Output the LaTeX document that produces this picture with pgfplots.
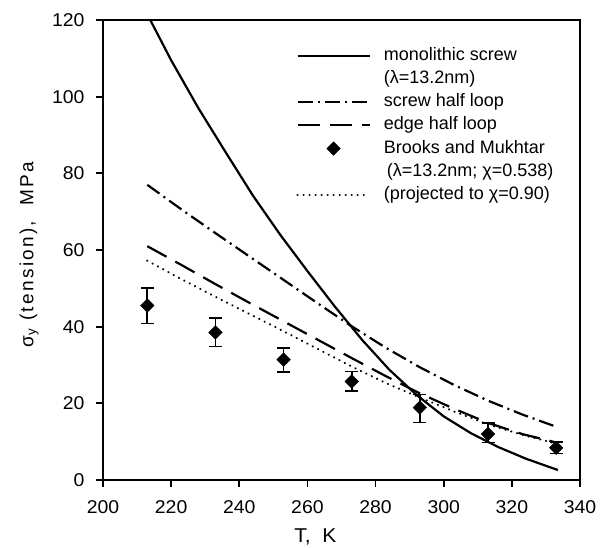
\documentclass[border=0pt]{standalone}
\usepackage{fontspec}
\setmainfont{Liberation Sans}
\newfontfamily\tickfont{Liberation Sans}[FakeStretch=1.05]
\newfontfamily\ylabfont{Liberation Sans}[LetterSpace=12]
\usepackage{pgfplots}
\pgfplotsset{compat=1.18}
\pgfplotsset{
 linelegend/.style={legend image code/.code={\draw[##1] (0pt,0pt) -- (72pt,0pt);}},
 marklegend/.style={legend image code/.code={\path (0pt,0pt) (72pt,0pt); \path[##1, draw=none] plot coordinates {(36pt,0pt)};}},
}

\pgfplotstableread{
x y ep em
213 45.5 4.5 4.7
233 38.5 3.8 3.7
253 31.4 3.0 3.3
273 25.7 2.6 2.5
293 18.9 3.4 3.9
313 12.0 2.8 2.2
333 8.4 1.6 1.5
}\brooks

\begin{document}
\begin{tikzpicture}
\begin{axis}[
 at={(0pt,0pt)}, anchor=south west,
 scale only axis, width=477pt, height=460pt,
 xmin=200, xmax=340, ymin=0, ymax=120,
 xtick={200,220,...,340}, ytick={0,20,...,120},
 tick align=outside, major tick length=7pt,
 xtick pos=bottom, ytick pos=left,
 axis line style={line width=2.2pt},
 every tick/.style={line width=1.8pt, black},
 /pgf/number format/assume math mode=true,
 ticklabel style={font=\tickfont\fontsize{18.5}{20}\selectfont},
 xticklabel style={yshift=-10pt},
 yticklabel style={xshift=-8pt},
 xlabel={T,\ \ K},
 ylabel={σ\textsubscript{y} (tension),\ \ MPa},
 xlabel style={font=\tickfont\fontsize{20}{22}\selectfont, at={(axis description cs:0.445,0)}, anchor=center, yshift=-57pt},
 ylabel style={font=\ylabfont\fontsize{19}{20}\selectfont, at={(axis description cs:-0.155,0.49)}, anchor=center},
 legend style={draw=none, fill=none, inner sep=0pt, at={(axis description cs:0.405,0.948)}, anchor=north west,
   font=\fontsize{18}{21}\selectfont, row sep=0pt, column sep=10pt,
   nodes={text height=13pt, text depth=4pt, inner sep=3.1pt}},
 legend cell align=left,
]
\addplot[forget plot, black, line width=2.2pt] coordinates {
(213,121.5)(220,109.5)(228,97)(236,85.5)(244,74.2)(252,64.0)(260,54.5)(268,45.3)(276,36.6)(284,28.8)(292,22.2)(300,16.6)(308,12.2)(316,8.6)(324,5.6)(333.5,2.6)};
\addplot[forget plot, black, line width=2.2pt, dash pattern=on 15pt off 5pt on 2pt off 5pt] coordinates {
(213,77)(223,70.6)(233,64.4)(243,58.3)(253,52.2)(263,46.1)(273,40.1)(283,34.5)(293,29.4)(303,24.8)(313,20.7)(323,17.1)(333,13.9)};
\addplot[forget plot, black, line width=2.2pt, dash pattern=on 22pt off 10pt] coordinates {
(213,61)(223,56.1)(233,51.1)(243,46.2)(253,41.4)(263,36.6)(273,31.8)(283,27.1)(293,22.6)(303,18.6)(313,14.9)(323,12.0)(333,9.8)};
\addplot[forget plot, black, line width=2.4pt, line cap=round, dash pattern=on 0.01pt off 6pt] coordinates {
(213,57.2)(223,52.4)(233,47.8)(243,43.3)(253,38.8)(263,34.2)(273,29.6)(283,25.3)(293,21.5)(303,17.9)(313,14.5)(323,11.8)(333,9.5)};
\addplot[forget plot, black, only marks, mark=square*, mark size=4.8pt, mark options={rotate=45, fill=black},
 error bars/.cd, y dir=both, y explicit,
 error bar style={line width=1.8pt, black},
 error mark options={rotate=90, mark size=6.5pt, line width=1.8pt, black}]
 table[x=x, y=y, y error plus=ep, y error minus=em] {\brooks};

\addlegendimage{black, line width=2.2pt, linelegend}
\addlegendentry{monolithic screw}
\addlegendimage{empty legend}
\addlegendentry{(λ=13.2nm)}
\addlegendimage{black, line width=2.2pt, dash pattern=on 15pt off 5pt on 2pt off 5pt, linelegend}
\addlegendentry{screw half loop}
\addlegendimage{black, line width=2.2pt, dash pattern=on 22pt off 10pt, linelegend}
\addlegendentry{edge half loop}
\addlegendimage{black, mark=square*, mark size=4.8pt, mark options={rotate=45, fill=black}, marklegend}
\addlegendentry{Brooks and Mukhtar}
\addlegendimage{empty legend}
\addlegendentry{\hspace{3pt}(λ=13.2nm; χ=0.538)}
\addlegendimage{black, line width=2.4pt, line cap=round, dash pattern=on 0.01pt off 6pt, linelegend}
\addlegendentry{(projected to χ=0.90)}
\end{axis}
\pgfresetboundingbox
\path[use as bounding box] (-103pt,-68pt) rectangle (507pt,480pt);
\end{tikzpicture}
\end{document}
